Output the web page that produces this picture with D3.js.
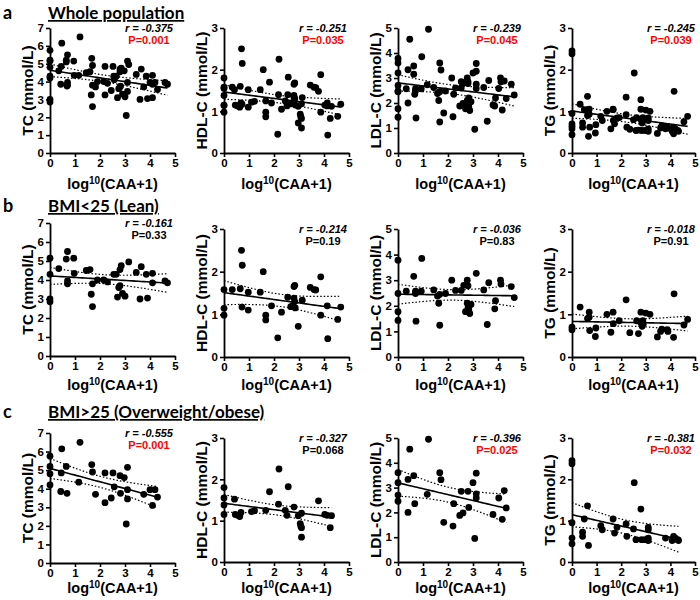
<!DOCTYPE html>
<html><head><meta charset="utf-8">
<script src="https://cdn.jsdelivr.net/npm/d3@7/dist/d3.min.js"></script>
<style>
body{margin:0;background:#fff;}
svg{display:block;font-family:"Liberation Sans",Arial,sans-serif;}
</style></head>
<body><svg id="chart" width="700" height="600"></svg>
<script>
// ---------- DATA ----------
const groupLetters = ["a","b","c"];
const groupTitles = ["Whole population","BMI<25 (Lean)","BMI>25 (Overweight/obese)"];
const measures = ["TC","HDL-C","LDL-C","TG"];
const yMaxes = [7,3,5,3];
const xTicks = [0,1,2,3,4,5];
const rTexts = [["-0.375","-0.251","-0.239","-0.245"],
                ["-0.161","-0.214","-0.036","-0.018"],
                ["-0.555","-0.327","-0.396","-0.381"]];
const pTexts = [["0.001","0.035","0.045","0.039"],
                ["0.33","0.19","0.83","0.91"],
                ["0.001","0.068","0.025","0.032"]];

// [log10(CAA+1), value]
const leanTC = [[0,5.15],[0,4.3],[0,3.0],[0,2.85],[0.35,4.6],[0.65,5.1],[0.7,5.5],[0.7,3.95],[0.7,3.8],[0.95,5.15],[0.97,4.35],
  [1.45,4.5],[1.6,4.55],[1.7,3.8],[1.65,3.25],[1.7,2.6],[1.9,4.0],[2.15,4.0],[2.3,3.9],[2.55,4.3],[2.65,4.3],[2.7,3.1],
  [2.75,3.6],[2.8,4.55],[2.85,4.75],[2.8,3.7],[2.9,3.3],[3.0,3.15],[3.15,4.95],[3.45,4.4],[3.6,3.0],[3.65,4.7],[3.85,4.3],
  [3.9,3.05],[4.1,4.35],[4.1,3.85],[4.6,3.95],[4.7,3.85]];
const obeseTC = [[0,5.75],[0,5.2],[0,4.8],[0,4.2],[0.45,4.85],[0.47,6.15],[0.43,3.85],[0.65,5.2],[0.68,3.75],[1.15,4.35],
  [1.2,6.5],[1.67,5.3],[1.7,4.9],[1.82,3.7],[2.2,4.85],[2.2,3.25],[2.45,3.5],[2.52,4.85],[2.57,4.1],[2.8,4.7],[2.82,3.75],
  [2.97,4.6],[3.1,5.15],[3.1,3.95],[3.1,3.45],[3.05,2.1],[3.75,3.7],[4.0,3.95],[4.1,3.1],[4.2,3.95],[4.3,3.55]];
const leanHDL = [[0,1.58],[0,1.14],[0,0.98],[0.33,1.58],[0.65,1.6],[0.7,2.5],[0.73,2.15],[0.72,1.17],[0.97,1.52],[0.97,1.1],
  [1.45,1.52],[1.57,2.0],[1.67,0.98],[1.67,0.87],[1.9,1.2],[2.15,0.45],[2.3,1.05],[2.55,1.4],[2.67,1.18],[2.75,1.2],
  [2.8,1.38],[2.83,1.68],[2.8,1.65],[2.83,1.3],[2.85,1.15],[2.97,0.72],[3.13,1.33],[3.45,1.63],[3.6,1.58],[3.67,1.57],
  [3.87,1.88],[3.87,0.98],[4.13,1.2],[4.15,0.43],[4.55,0.88],[4.67,1.17]];
const obeseHDL = [[0,1.8],[0,1.55],[0,1.38],[0,1.15],[0.42,1.52],[0.45,1.15],[0.55,1.13],[0.63,1.1],[0.68,1.2],[1.1,1.22],
  [1.22,1.24],[1.67,1.25],[1.82,1.7],[2.2,2.25],[2.18,1.4],[2.57,1.82],[2.45,1.25],[2.52,1.13],[2.8,1.33],[2.97,1.12],
  [3.05,0.93],[3.07,0.87],[3.1,0.83],[3.1,0.6],[3.1,1.18],[3.78,1.48],[4.03,1.15],[4.13,1.13],[4.3,1.12],[4.25,0.83]];
const leanLDL = [[0,3.78],[0,2.48],[0,1.77],[0,1.43],[0.33,2.57],[0.63,3.15],[0.7,2.57],[0.7,2.48],[0.72,1.4],[0.95,3.85],
  [0.93,2.57],[1.43,2.62],[1.58,2.38],[1.63,2.1],[1.67,1.24],[1.67,2.45],[1.9,2.48],[2.15,3.0],[2.3,2.6],[2.53,2.6],
  [2.63,2.8],[2.7,1.77],[2.77,3.0],[2.8,2.78],[2.77,2.1],[2.8,1.92],[2.83,1.85],[2.87,1.7],[2.92,2.05],[3.13,3.27],
  [3.43,2.62],[3.57,1.27],[3.63,2.9],[3.87,1.88],[3.9,2.2],[4.1,3.0],[4.12,2.85],[4.53,2.75],[4.65,2.32]];
const obeseLDL = [[0,3.6],[0,3.2],[0,2.7],[0,2.45],[0.4,3.33],[0.47,4.55],[0.4,2.0],[0.63,3.48],[0.67,2.35],[1.17,2.73],
  [1.22,4.95],[1.67,3.6],[1.72,3.32],[1.83,1.6],[2.2,1.45],[2.23,2.35],[2.53,2.85],[2.47,1.88],[2.6,1.98],[2.8,2.85],
  [2.83,2.2],[3.0,3.2],[3.07,0.95],[3.13,3.58],[3.13,2.75],[3.13,2.58],[3.8,1.92],[4.03,2.58],[4.17,1.72],[4.25,2.88],[4.33,2.18]];
const leanTG = [[0,0.7],[0,0.64],[0.33,1.17],[0.63,0.9],[0.7,1.05],[0.7,0.93],[0.72,0.62],[0.95,0.48],[0.97,0.68],[1.42,1.0],
  [1.58,0.58],[1.67,1.05],[1.68,0.78],[1.92,0.85],[2.2,1.34],[2.35,0.57],[2.63,0.85],[2.7,0.55],[2.8,1.05],[2.8,0.8],
  [2.85,0.72],[2.9,0.78],[2.88,0.85],[3.0,1.03],[3.17,1.0],[3.47,0.47],[3.6,0.6],[3.65,0.65],[3.87,0.64],[3.9,0.6],
  [4.13,0.46],[4.15,1.48],[4.55,0.75],[4.7,0.88]];
const obeseTG = [[0,2.45],[0,2.38],[0,0.95],[0,0.58],[0,0.44],[0.43,0.72],[0.43,0.62],[0.5,1.04],[0.63,1.36],[0.67,0.4],
  [1.17,0.88],[1.23,0.78],[1.67,1.04],[1.73,0.7],[1.83,0.84],[2.2,0.92],[2.23,0.62],[2.5,0.8],[2.53,1.92],[2.6,0.54],
  [2.8,1.28],[2.83,0.54],[2.97,0.54],[3.1,0.58],[3.1,0.84],[3.1,0.78],[3.1,0.52],[3.8,0.58],[4.07,0.52],[4.13,0.62],
  [4.2,0.58],[4.3,0.54],[4.33,0.52]];

const leanSets = [leanTC, leanHDL, leanLDL, leanTG];
const obeseSets = [obeseTC, obeseHDL, obeseLDL, obeseTG];
const wholeSets = leanSets.map((s,i) => s.concat(obeseSets[i]));
const allSets = [wholeSets, leanSets, obeseSets];

// ---------- LAYOUT ----------
const colX = [50,224,398,572];
const plotWs = [125,125,125,123];
const rowTop = [[28,28,28,28],[223,229,229,229],[433,438,438,438]];
const rowBot = [[153,153,153,153],[356,357,357,357],[563,562,562,562]];
const headerY = [19,212,418];
const xTitleY = [189,390,593];

const svg = d3.select("#chart");

function tcrit(df){ return 1.96 + 2.4/df; }

function fit(data){
  const n = data.length;
  const mx = d3.mean(data, d=>d[0]), my = d3.mean(data, d=>d[1]);
  let sxx=0, sxy=0;
  data.forEach(d=>{ sxx += (d[0]-mx)**2; sxy += (d[0]-mx)*(d[1]-my); });
  const b = sxy/sxx, a = my - b*mx;
  let sse = 0; data.forEach(d=>{ sse += (d[1]-a-b*d[0])**2; });
  const s = Math.sqrt(sse/(n-2));
  const t = tcrit(n-2);
  const [x0,x1] = d3.extent(data, d=>d[0]);
  const xs = d3.range(0,41).map(i => x0 + (x1-x0)*i/40);
  return xs.map(x => {
    const yh = a + b*x;
    const se = s*Math.sqrt(1/n + (x-mx)**2/sxx);
    return {x, y:yh, lo:yh - t*se, hi:yh + t*se};
  });
}

groupTitles.forEach((title, g) => {
  svg.append("text").attr("x",3).attr("y",headerY[g]).attr("font-size",18).attr("font-weight","bold")
    .attr("font-family","Lato, sans-serif").text(groupLetters[g]);
  svg.append("text").attr("x",48).attr("y",headerY[g]).attr("font-size",17).attr("font-weight","bold")
    .attr("font-family","Lato, sans-serif").attr("text-decoration","underline").text(title);

  measures.forEach((m, k) => {
    const left = colX[k], top = rowTop[g][k], bot = rowBot[g][k], plotW = plotWs[k];
    const x = d3.scaleLinear().domain([0,5]).range([left, left+plotW]);
    const y = d3.scaleLinear().domain([0,yMaxes[k]]).range([bot, top]);
    const data = allSets[g][k];
    const p = svg.append("g");

    const yAxis = d3.axisLeft(y).tickValues(d3.range(0,yMaxes[k]+1)).tickFormat(d3.format("d"))
      .tickSize(4).tickSizeOuter(0).tickPadding(2);
    const xAxis = d3.axisBottom(x).tickValues(xTicks).tickFormat(d3.format("d"))
      .tickSize(4).tickSizeOuter(0).tickPadding(2);
    const ya = p.append("g").attr("transform",`translate(${left},0)`).call(yAxis);
    const xa = p.append("g").attr("transform",`translate(0,${bot})`).call(xAxis);
    [ya,xa].forEach(ax => {
      ax.select(".domain").attr("stroke","#000").attr("stroke-width",1.8);
      ax.selectAll(".tick line").attr("stroke","#000").attr("stroke-width",1.6);
      ax.selectAll(".tick text").attr("font-size",11.5).attr("font-weight","bold").attr("fill","#000")
        .attr("font-family","Liberation Sans, Arial, sans-serif");
    });

    // y title
    p.append("text").attr("transform",`translate(${left-17},${(top+bot)/2}) rotate(-90)`)
      .attr("text-anchor","middle").attr("font-size",15.5).attr("font-weight","bold").text(m + " (mmol/L)");
    // x title
    const xt = p.append("text").attr("x", left + plotW/2).attr("y", xTitleY[g]).attr("text-anchor","middle")
      .attr("font-size",14.5).attr("font-weight","bold");
    xt.append("tspan").text("log");
    xt.append("tspan").attr("dy",-5).attr("font-size",10).text("10");
    xt.append("tspan").attr("dy",5).text("(CAA+1)");

    // regression
    const f = fit(data);
    const line = key => d3.line().x(d=>x(d.x)).y(d=>y(d[key]));
    p.append("path").datum(f).attr("d", line("lo")).attr("fill","none").attr("stroke","#000")
      .attr("stroke-width",1.2).attr("stroke-dasharray","1.5,2");
    p.append("path").datum(f).attr("d", line("hi")).attr("fill","none").attr("stroke","#000")
      .attr("stroke-width",1.2).attr("stroke-dasharray","1.5,2");
    p.append("path").datum(f).attr("d", line("y")).attr("fill","none").attr("stroke","#000").attr("stroke-width",1.6);

    // points
    p.selectAll("circle.pt").data(data).join("circle").attr("class","pt")
      .attr("cx", d=>x(d[0])).attr("cy", d=>y(d[1])).attr("r",3.4).attr("fill","#000");

    // stats
    const cx = left + 99;
    p.append("text").attr("x",cx).attr("y",top+4).attr("text-anchor","middle").attr("font-size",11)
      .attr("font-weight","bold").attr("font-style","italic").text("r = " + rTexts[g][k]);
    const pv = parseFloat(pTexts[g][k]);
    p.append("text").attr("x",cx).attr("y",top+16).attr("text-anchor","middle").attr("font-size",11)
      .attr("font-weight","bold").attr("fill", pv < 0.05 ? "#ff0000" : "#000").text("P=" + pTexts[g][k]);
  });
});
</script></body></html>
